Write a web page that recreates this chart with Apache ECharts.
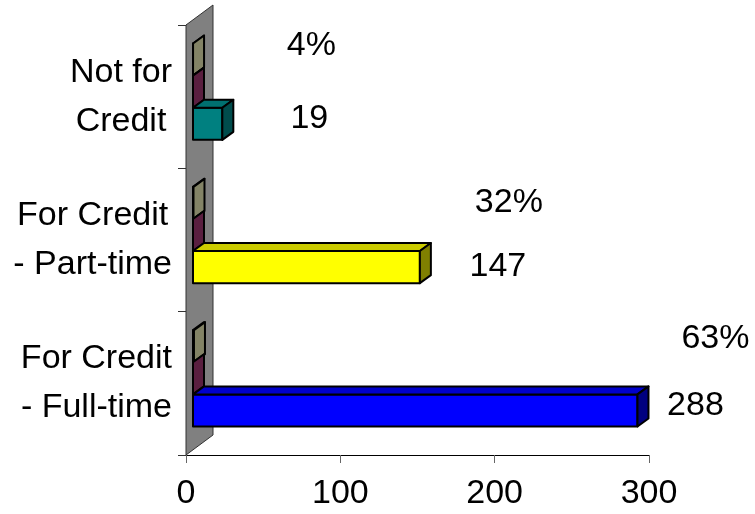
<!DOCTYPE html>
<html>
<head>
<meta charset="utf-8">
<script src="https://cdn.jsdelivr.net/npm/echarts@6/dist/echarts.min.js"></script>
<style>
  html, body { margin: 0; padding: 0; background: #fff; }
  #chart { width: 755px; height: 514px; }
</style>
</head>
<body>
<div id="chart"></div>
<script>
// Enrolment by course type (listed bottom to top): head count and share of total
const categories = ['For Credit\n- Full-time', 'For Credit\n- Part-time', 'Not for\nCredit'];
const counts = [288, 147, 19];
const sharePercents = [63, 32, 4];
const otherSeries = [0, 0, 0];
const xTicks = [0, 100, 200, 300];

const FONT = '"Liberation Sans", Arial, Helvetica, sans-serif';

// Face colours: [front, top, end cap]
const mainFaces = [
  ['#0000ff', '#0000cc', '#000080'],
  ['#ffff00', '#cccc00', '#808000'],
  ['#008080', '#007070', '#004c4c']
];
const shareFaces = ['#ffffcc', '#b3b38f', '#838366'];
const otherFaces = ['#993366', '#7a2952', '#5a1f40'];

// 3D projection of the bars and the side wall
const BAR_DEPTH = [11, -8];
const BAR_SHIFT = [7, -5];
const WALL_DEPTH = [27, -20];

// label offsets from the bar's value point and category centre: [pctDx, pctDy, valDx, valDy]
const labelNudge = [
  [85, -45, 65, 22],
  [96, -37, 85, 27],
  [96, -51, 94, 22]
];

function box(x0, x1, top, bottom, faces) {
  const dx = BAR_DEPTH[0], dy = BAR_DEPTH[1];
  const line = { stroke: '#000', lineWidth: 2, lineJoin: 'round' };
  return [
    { type: 'polygon', shape: { points: [[x0, top], [x1, top], [x1, bottom], [x0, bottom]] },
      style: Object.assign({ fill: faces[0] }, line) },
    { type: 'polygon', shape: { points: [[x0, top], [x0 + dx, top + dy], [x1 + dx, top + dy], [x1, top]] },
      style: Object.assign({ fill: faces[1] }, line) },
    { type: 'polygon', shape: { points: [[x1, top], [x1 + dx, top + dy], [x1 + dx, bottom + dy], [x1, bottom]] },
      style: Object.assign({ fill: faces[2] }, line) }
  ];
}

function label(x, y, text) {
  return {
    type: 'text', x: x, y: y,
    style: { text: text, fill: '#000', fontSize: 34, fontFamily: FONT, align: 'center', verticalAlign: 'middle' }
  };
}

function renderGroup(params, api) {
  const idx = api.value(0);
  const count = api.value(1);
  const pct = api.value(2);
  const other = api.value(3);
  const base = api.coord([0, idx]);
  const catY = base[1];
  const h = api.size([0, 1])[1] * 0.224;
  const x0 = base[0] + BAR_SHIFT[0];
  const mid = catY + BAR_SHIFT[1];
  const s = [mid - 1.5 * h, mid - 0.5 * h, mid + 0.5 * h, mid + 1.5 * h];
  const xShare = api.coord([pct / 100, idx])[0] + BAR_SHIFT[0];
  const xOther = api.coord([other, idx])[0] + BAR_SHIFT[0];
  const countPt = api.coord([count, idx]);
  const xCount = countPt[0] + BAR_SHIFT[0];
  const n = labelNudge[idx];
  const children = []
    .concat(box(x0, xShare, s[0], s[1], shareFaces))
    .concat(box(x0, xOther, s[1], s[2], otherFaces))
    .concat(box(x0, xCount, s[2], s[3], mainFaces[idx]))
    .concat([
      label(countPt[0] + n[0], catY + n[1], pct + '%'),
      label(countPt[0] + n[2], catY + n[3], String(count))
    ]);
  return { type: 'group', children: children };
}

function renderWall(params, api) {
  const cs = params.coordSys;
  const x = cs.x, top = cs.y, bottom = cs.y + cs.height;
  const dx = WALL_DEPTH[0], dy = WALL_DEPTH[1];
  return {
    type: 'polygon',
    shape: { points: [[x, bottom], [x, top], [x + dx, top + dy], [x + dx, bottom + dy]] },
    style: { fill: '#808080', stroke: '#333', lineWidth: 1 }
  };
}

const rows = categories.map(function (c, i) {
  return [i, counts[i], sharePercents[i], otherSeries[i]];
});

const chart = echarts.init(document.getElementById('chart'), null, { renderer: 'canvas' });
chart.setOption({
  backgroundColor: '#fff',
  animation: false,
  grid: { left: 186, right: 106, top: 25, bottom: 59, containLabel: false },
  xAxis: {
    type: 'value',
    min: xTicks[0],
    max: xTicks[xTicks.length - 1],
    interval: xTicks[1] - xTicks[0],
    axisLine: { show: true, lineStyle: { color: '#000', width: 1 } },
    axisTick: { show: true, length: 8, lineStyle: { color: '#666' } },
    splitLine: { show: false },
    axisLabel: { fontSize: 34, fontFamily: FONT, color: '#000', margin: 22 }
  },
  yAxis: {
    type: 'category',
    data: categories,
    axisLine: { show: true, lineStyle: { color: '#000', width: 1 } },
    axisTick: { show: true, length: 8, lineStyle: { color: '#333' } },
    splitLine: { show: false },
    axisLabel: {
      interval: 0,
      margin: 14,
      fontSize: 34,
      fontFamily: FONT,
      color: '#000',
      align: 'right',
      formatter: function (v) {
        return v.split('\n').map(function (l) { return '{c|' + l + '}'; }).join('\n');
      },
      rich: { c: { fontSize: 34, fontFamily: FONT, color: '#000', lineHeight: 49, align: 'center' } }
    }
  },
  series: [
    { type: 'custom', name: 'wall', renderItem: renderWall, data: [[0, 0]], z: 1, silent: true },
    { type: 'custom', name: 'enrolment', renderItem: renderGroup, data: rows, z: 3,
      encode: { y: 0, x: 1 }, clip: false }
  ]
});
</script>
</body>
</html>
